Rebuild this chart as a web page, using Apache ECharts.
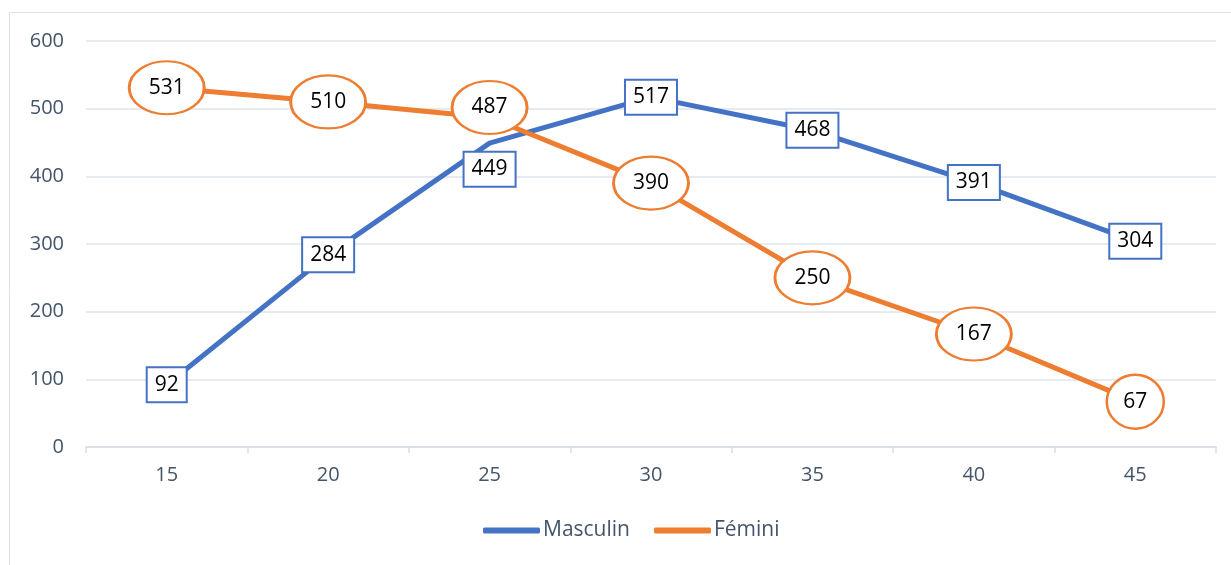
<!DOCTYPE html>
<html>
<head>
<meta charset="utf-8">
<script src="https://cdn.jsdelivr.net/npm/echarts@6/dist/echarts.min.js"></script>
<style>
  html, body { margin: 0; padding: 0; background: #fff; }
  #chart { width: 1231px; height: 565px; }
</style>
</head>
<body>
<div id="chart"></div>
<script>
var ages = ['15', '20', '25', '30', '35', '40', '45'];
var masculin = [92, 284, 449, 517, 468, 391, 304];
var feminin = [531, 510, 487, 390, 250, 167, 67];
var yTicks = { min: 0, max: 600, interval: 100 };

var chart = echarts.init(document.getElementById('chart'));
var BLUE = '#4472C4', ORANGE = '#ED7D31', TXT = '#44546A';

// labels moved by hand in the original chart
var maleShift = { 2: [0, 26] };
var femaleShift = { 2: [0, -10] };

var ellipse = 'path://M0,50 A50,50 0 1,1 100,50 A50,50 0 1,1 0,50 Z';

var maleData = masculin.map(function (v, i) {
  var d = { value: v };
  if (maleShift[i]) d.label = { offset: maleShift[i] };
  return d;
});
var femaleData = feminin.map(function (v, i) {
  var d = { value: v };
  if (femaleShift[i]) { d.symbolOffset = femaleShift[i]; }
  return d;
});

chart.setOption({
  animation: false,
  textStyle: { fontFamily: 'Open Sans' },
  graphic: [{
    type: 'rect',
    shape: { x: 9.5, y: 12.5, width: 1240, height: 570 },
    style: { fill: 'none', stroke: '#DDE1E7', lineWidth: 1 },
    silent: true, z: -1
  }],
  grid: { left: 86, right: 15, top: 41, bottom: 118 },
  legend: {
    top: 515,
    left: 478,
    itemWidth: 57,
    itemHeight: 6,
    itemGap: 24,
    icon: 'roundRect',
    textStyle: { color: TXT, fontSize: 21, fontFamily: 'Open Sans', padding: [0, 0, 0, -2] },
    data: [
      { name: 'Masculin', itemStyle: { color: BLUE, borderWidth: 0 } },
      { name: 'Fémini', itemStyle: { color: ORANGE, borderWidth: 0 } }
    ]
  },
  xAxis: {
    type: 'category',
    data: ages,
    boundaryGap: true,
    axisLine: { lineStyle: { color: '#D9DDE3', width: 1.5 } },
    axisTick: { show: true, length: 6, lineStyle: { color: '#D9DDE3', width: 1.5 } },
    axisLabel: { color: TXT, fontSize: 20, margin: 18 }
  },
  yAxis: {
    type: 'value',
    min: yTicks.min,
    max: yTicks.max,
    interval: yTicks.interval,
    axisLine: { show: false },
    axisTick: { show: false },
    axisLabel: { color: TXT, fontSize: 20, margin: 22 },
    splitLine: { lineStyle: { color: '#DFE3EA', width: 1.5 } }
  },
  series: [{
    name: 'Masculin',
    type: 'line',
    data: maleData,
    symbol: 'circle',
    symbolSize: 2,
    lineStyle: { color: BLUE, width: 5 },
    itemStyle: { color: BLUE },
    label: {
      show: true,
      position: 'inside',
      color: '#000',
      fontSize: 21,
      lineHeight: 23,
      backgroundColor: '#fff',
      borderColor: BLUE,
      borderWidth: 2,
      padding: [6, 7, 4, 7]
    }
  }, {
    name: 'Fémini',
    type: 'line',
    data: femaleData,
    symbol: ellipse,
    symbolKeepAspect: false,
    symbolSize: function (v) { return String(v).length > 2 ? [75, 53] : [57, 54]; },
    lineStyle: { color: ORANGE, width: 5 },
    itemStyle: { color: '#fff', borderColor: ORANGE, borderWidth: 2.5 },
    label: {
      show: true,
      position: 'inside',
      color: '#000',
      fontSize: 21
    }
  }]
});
</script>
</body>
</html>
